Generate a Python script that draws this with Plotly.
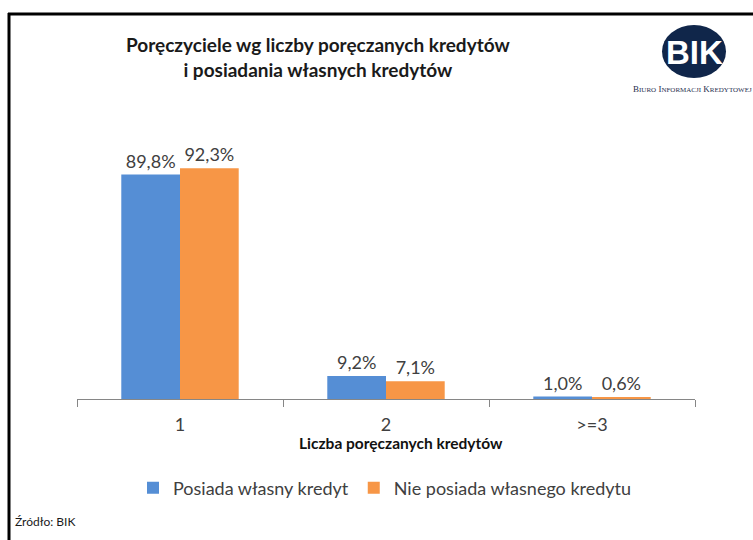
import plotly.graph_objects as go

categories = ["1", "2", ">=3"]
series_names = ["Posiada własny kredyt", "Nie posiada własnego kredytu"]
posiada = [89.8, 9.2, 1.0]
nie_posiada = [92.3, 7.1, 0.6]
colors = ["#558ED5", "#F79646"]

W, H = 753, 540
L, R, T, B = 77, 58, 149, 141
pw, ph = W - L - R, H - T - B

def px(x):
    return (x - L) / pw

def py(y):
    return (H - B - y) / ph

FONT = "Lato, 'Open Sans', sans-serif"

fig = go.Figure()
for name, vals, c in zip(series_names, [posiada, nie_posiada], colors):
    fig.add_trace(go.Bar(
        x=categories, y=vals, name=name, marker_color=c, marker_line_width=0,
        texttemplate="%{y:.1f}%", textposition="outside", cliponaxis=False,
        textfont=dict(size=18, color="#404040", family=FONT),
    ))

fig.update_layout(
    width=W, height=H,
    margin=dict(l=L, r=R, t=T, b=B, autoexpand=False),
    paper_bgcolor="white", plot_bgcolor="white",
    separators=", ",
    barmode="group", bargap=0.43, bargroupgap=0,
    font=dict(family=FONT, color="#404040"),
    showlegend=True,
    legend=dict(orientation="h", x=px(385), y=py(488), xanchor="center", yanchor="middle",
                font=dict(size=18, color="#404040", family=FONT), itemwidth=30,
                bgcolor="rgba(0,0,0,0)", traceorder="normal"),
    xaxis=dict(showline=True, linecolor="#868686", linewidth=1, ticks="outside",
               tickson="boundaries", ticklen=7, tickcolor="#868686", ticklabelstandoff=9,
               tickfont=dict(size=18, color="#404040", family=FONT), showgrid=False),
    yaxis=dict(range=[0, 100], visible=False, showgrid=False),
)

annotations = [
    dict(text="<b>Poręczyciele wg liczby poręczanych kredytów<br>i posiadania własnych kredytów</b>",
         x=px(318), y=py(57), xref="paper", yref="paper", showarrow=False,
         xanchor="center", yanchor="middle", align="center",
         font=dict(size=19, color="#1a1a1a", family=FONT)),
    dict(text="<b>Liczba poręczanych kredytów</b>", x=px(401), y=py(443), xref="paper", yref="paper",
         showarrow=False, xanchor="center", yanchor="middle",
         font=dict(size=15.5, color="#111111", family=FONT)),
    dict(text="Źródło: BIK", x=px(13), y=py(521), xref="paper", yref="paper", showarrow=False,
         xanchor="left", yanchor="middle", font=dict(size=12, color="#1a1a1a", family=FONT)),
    dict(text="<b>BIK</b>", x=px(694), y=py(52), xref="paper", yref="paper", showarrow=False,
         xanchor="center", yanchor="middle", font=dict(size=33, color="white", family="Arial, Liberation Sans, sans-serif")),
    dict(text="B<span style='font-size:7px'>IURO</span> I<span style='font-size:7px'>NFORMACJI</span> K<span style='font-size:7px'>REDYTOWEJ</span>",
         x=px(692), y=py(89), xref="paper", yref="paper", showarrow=False,
         xanchor="center", yanchor="middle", font=dict(size=9, color="#1f2f4f", family="Liberation Serif, serif")),
]
fig.update_layout(annotations=annotations)

shapes = [
    dict(type="line", xref="paper", yref="paper", x0=px(8), x1=px(760), y0=py(14), y1=py(14),
         line=dict(color="black", width=3)),
    dict(type="line", xref="paper", yref="paper", x0=px(9), x1=px(9), y0=py(13), y1=py(545),
         line=dict(color="black", width=3)),
    dict(type="circle", xref="paper", yref="paper", x0=px(662), x1=px(726), y0=py(78), y1=py(25),
         fillcolor="#10264a", line=dict(width=0)),
]
fig.update_layout(shapes=shapes)

fig.write_html("out.html", config={"displayModeBar": False},
               post_script="document.body.style.margin='0';")
